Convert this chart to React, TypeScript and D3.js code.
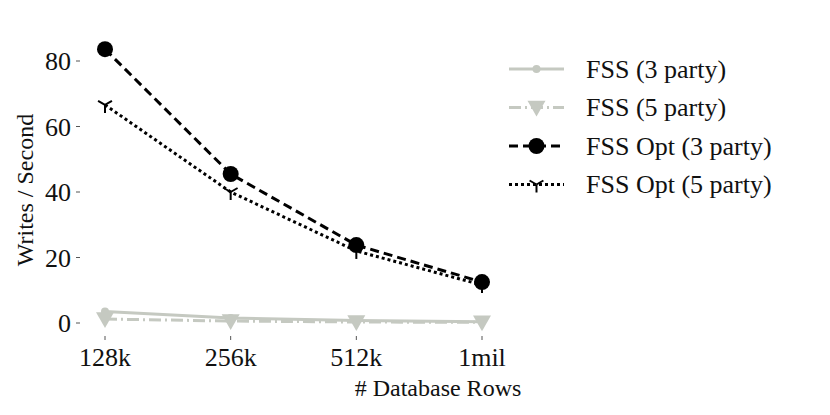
import React from "react";
import * as d3 from "d3";

const categories = ["128k", "256k", "512k", "1mil"];
const yTicks = [0, 20, 40, 60, 80];
const fss3 = [3.5, 1.5, 0.8, 0.4];
const fss5 = [1.2, 0.6, 0.3, 0.2];
const opt3 = [83.6, 45.5, 23.8, 12.5];
const opt5 = [66.6, 40.0, 22.0, 11.6];
const seriesNames = ["FSS (3 party)", "FSS (5 party)", "FSS Opt (3 party)", "FSS Opt (5 party)"];

const GREY = "#c5c9c1";
const FONT = "Liberation Serif";

type Marker = "smallcircle" | "tridown" | "circle" | "tri";
const series = [
  { name: seriesNames[0], values: fss3, color: GREY, dash: "", marker: "smallcircle" as Marker },
  { name: seriesNames[1], values: fss5, color: GREY, dash: "12,4,2,4", marker: "tridown" as Marker },
  { name: seriesNames[2], values: opt3, color: "#000", dash: "9,5", marker: "circle" as Marker },
  { name: seriesNames[3], values: opt5, color: "#000", dash: "3,3", marker: "tri" as Marker },
];

function MarkerShape({ kind, x, y, color }: { kind: Marker; x: number; y: number; color: string }) {
  if (kind === "smallcircle") return <circle cx={x} cy={y} r={4} fill={color} />;
  if (kind === "circle") return <circle cx={x} cy={y} r={8} fill={color} />;
  if (kind === "tridown") {
    const s = 9;
    return <path d={`M${x - s},${y - s * 0.75}L${x + s},${y - s * 0.75}L${x},${y + s}Z`} fill={color} />;
  }
  const s = 8;
  return (
    <g stroke={color} strokeWidth={2} fill="none">
      <line x1={x} y1={y} x2={x} y2={y + s} />
      <line x1={x} y1={y} x2={x - s * 0.866} y2={y - s * 0.5} />
      <line x1={x} y1={y} x2={x + s * 0.866} y2={y - s * 0.5} />
    </g>
  );
}

function T(props: React.SVGProps<SVGTextElement>) {
  return <text fontFamily={FONT} style={{ fontFamily: FONT }} fill="#111" {...props} />;
}

export default function App() {
  const W = 830, H = 415;
  const x = d3.scalePoint<string>().domain(categories).range([105, 482]);
  const y = d3.scaleLinear().domain([0, 80]).range([323, 61]);
  const line = d3.line<number>().x((_, i) => x(categories[i])!).y((v) => y(v));

  return (
    <svg width={W} height={H} style={{ display: "block", margin: "-8px" }}>
      <rect width={W} height={H} fill="#fff" />
      {yTicks.map((t) => (
        <g key={t}>
          <line x1={76} x2={80} y1={y(t)} y2={y(t)} stroke="#555" strokeWidth={1} />
          <T x={71} y={y(t) + 9} textAnchor="end" fontSize={26}>{String(t)}</T>
        </g>
      ))}
      {categories.map((c) => (
        <g key={c}>
          <line x1={x(c)} x2={x(c)} y1={336} y2={340} stroke="#555" strokeWidth={1} />
          <T x={x(c)} y={366} textAnchor="middle" fontSize={26}>{c}</T>
        </g>
      ))}
      <T x={438} y={396} textAnchor="middle" fontSize={24}># Database Rows</T>
      <T transform={`translate(33,190) rotate(-90)`} textAnchor="middle" fontSize={24}>Writes / Second</T>

      {series.map((s) => (
        <g key={s.name}>
          <path d={line(s.values)!} fill="none" stroke={s.color} strokeWidth={3} strokeDasharray={s.dash} />
          {s.values.map((v, i) => (
            <MarkerShape key={i} kind={s.marker} x={x(categories[i])!} y={y(v)} color={s.color} />
          ))}
        </g>
      ))}

      {series.map((s, i) => {
        const ly = 69 + i * 38.5;
        return (
          <g key={s.name}>
            <line x1={509} x2={564} y1={ly} y2={ly} stroke={s.color} strokeWidth={3} strokeDasharray={s.dash} />
            <MarkerShape kind={s.marker} x={536.5} y={ly} color={s.color} />
            <T x={586} y={ly + 8.5} fontSize={26}>{s.name}</T>
          </g>
        );
      })}
    </svg>
  );
}
